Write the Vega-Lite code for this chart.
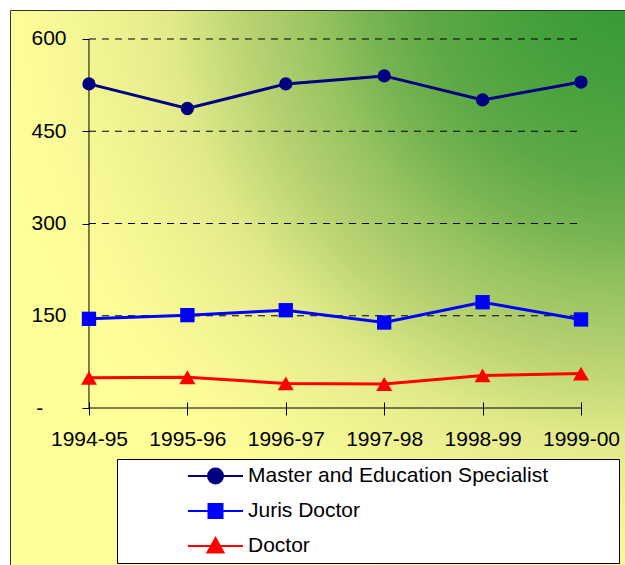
{
  "$schema": "https://vega.github.io/schema/vega-lite/v6.json",
  "width": 616,
  "height": 556,
  "autosize": {"type": "none"},
  "padding": {"left": 10, "top": 10, "right": 0, "bottom": 0},
  "background": "white",
  "config": {
    "view": {
      "stroke": "#333333", "strokeWidth": 1,
      "fill": {
        "gradient": "radial",
        "x1": 1, "y1": 0, "r1": 0,
        "x2": 1, "y2": 0, "r2": 1.08,
        "stops": [
          {"offset": 0, "color": "#339933"},
          {"offset": 0.15, "color": "#44a03b"},
          {"offset": 0.3, "color": "#5ea946"},
          {"offset": 0.39, "color": "#78b552"},
          {"offset": 0.47, "color": "#98c460"},
          {"offset": 0.56, "color": "#b5d070"},
          {"offset": 0.64, "color": "#cfe07f"},
          {"offset": 0.69, "color": "#e2e98b"},
          {"offset": 0.76, "color": "#eef090"},
          {"offset": 0.88, "color": "#fafa97"},
          {"offset": 0.96, "color": "#ffff99"},
          {"offset": 1, "color": "#ffff99"}
        ]
      }
    },
    "font": "Liberation Sans",
    "axisX": {"orient": "bottom", "offset": -164, "domain": false, "grid": false, "ticks": true, "tickSize": 13, "tickColor": "black", "labelPadding": 13, "labelFontSize": 21, "labelFont": "Liberation Sans", "labelColor": "black", "labelAngle": 0, "zindex": 2},
    "axisY": {"orient": "left", "offset": -79, "domain": false, "grid": false, "tickSize": 7, "tickColor": "black", "labelPadding": 16, "labelFontSize": 21, "labelFont": "Liberation Sans", "labelColor": "black", "zindex": 2}
  },
  "datasets": {
    "d": [
      {"series": "Master and Education Specialist", "year": "1994-95", "value": 527},
      {"series": "Master and Education Specialist", "year": "1995-96", "value": 487},
      {"series": "Master and Education Specialist", "year": "1996-97", "value": 527},
      {"series": "Master and Education Specialist", "year": "1997-98", "value": 540},
      {"series": "Master and Education Specialist", "year": "1998-99", "value": 501},
      {"series": "Master and Education Specialist", "year": "1999-00", "value": 530},
      {"series": "Juris Doctor", "year": "1994-95", "value": 145},
      {"series": "Juris Doctor", "year": "1995-96", "value": 151},
      {"series": "Juris Doctor", "year": "1996-97", "value": 159},
      {"series": "Juris Doctor", "year": "1997-98", "value": 139},
      {"series": "Juris Doctor", "year": "1998-99", "value": 172},
      {"series": "Juris Doctor", "year": "1999-00", "value": 144},
      {"series": "Doctor", "year": "1994-95", "value": 49},
      {"series": "Doctor", "year": "1995-96", "value": 50},
      {"series": "Doctor", "year": "1996-97", "value": 40},
      {"series": "Doctor", "year": "1997-98", "value": 39},
      {"series": "Doctor", "year": "1998-99", "value": 53},
      {"series": "Doctor", "year": "1999-00", "value": 56}
    ]
  },
  "layer": [
    {
      "data": {"values": [
        {"value": 150, "year": "1994-95", "b": "1999-00"},
        {"value": 300, "year": "1994-95", "b": "1999-00"},
        {"value": 450, "year": "1994-95", "b": "1999-00"},
        {"value": 600, "year": "1994-95", "b": "1999-00"}
      ]},
      "mark": {"type": "rule", "color": "black", "strokeWidth": 1, "strokeDash": [7, 6]},
      "encoding": {
        "x": {"field": "year", "type": "nominal", "title": null, "scale": {"type": "point", "domain": ["1994-95", "1995-96", "1996-97", "1997-98", "1998-99", "1999-00"], "padding": 0.63, "align": 0.637}},
        "x2": {"field": "b"},
        "y": {"field": "value", "type": "quantitative", "title": null, "scale": {"domain": [-256.9, 647.15], "nice": false, "zero": false}, "axis": {"values": [0, 150, 300, 450, 600], "labelExpr": "datum.value === 0 ? '-\u00a0\u00a0\u00a0\u00a0\u200b' : datum.label"}}
      }
    },
    {
      "data": {"values": [
        {"year": "1994-95", "b": "1994-95", "value": 0, "v2": 600},
        {"year": "1994-95", "b": "1999-00", "value": 0, "v2": 0}
      ]},
      "mark": {"type": "rule", "color": "black", "strokeWidth": 1},
      "encoding": {
        "x": {"field": "year", "type": "nominal", "title": null},
        "x2": {"field": "b"},
        "y": {"field": "value", "type": "quantitative", "title": null, "axis": {"values": [0, 150, 300, 450, 600], "labelExpr": "datum.value === 0 ? '-\u00a0\u00a0\u00a0\u00a0\u200b' : datum.label"}},
        "y2": {"field": "v2"}
      }
    },
    {
      "data": {"name": "d"},
      "mark": {"type": "line", "strokeWidth": 3},
      "encoding": {
        "x": {"field": "year", "type": "nominal", "title": null},
        "y": {"field": "value", "type": "quantitative", "title": null, "axis": {"values": [0, 150, 300, 450, 600], "labelExpr": "datum.value === 0 ? '-\u00a0\u00a0\u00a0\u00a0\u200b' : datum.label"}},
        "color": {
          "field": "series", "type": "nominal",
          "scale": {"domain": ["Master and Education Specialist", "Juris Doctor", "Doctor"], "range": ["#000080", "#0000ff", "#ff0000"]},
          "legend": {
            "orient": "none", "legendX": 107, "legendY": 449, "title": null, "padding": 6,
            "fillColor": "white", "strokeColor": "black", "symbolSize": 400, "symbolStrokeWidth": 2,
            "symbolOffset": 81.5, "labelOffset": 21.5, "rowPadding": 12, "labelFontSize": 21,
            "labelFont": "Liberation Sans", "labelColor": "black", "labelLimit": 700, "zindex": 2,
            "labelExpr": "datum.label + '\u00a0\u00a0\u00a0\u00a0\u00a0\u00a0\u00a0\u00a0\u00a0\u00a0\u00a0\u200b'",
            "encode": {
              "symbols": {
                "update": {
                  "shape": {"signal": "datum.value === 'Doctor' ? 'M-2.75,0H2.75M0,-0.8L0.8,0.65L-0.8,0.65Z' : datum.value === 'Juris Doctor' ? 'M-2.75,0H2.75M-0.7,-0.7H0.7V0.7H-0.7Z' : 'M-2.75,0H2.75M0.75,0A0.75,0.75,0,1,1,-0.75,0A0.75,0.75,0,1,1,0.75,0Z'"},
                  "fill": {"signal": "scale('color', datum.value)"},
                  "stroke": {"signal": "scale('color', datum.value)"},
                  "opacity": {"value": 1}
                }
              }
            }
          }
        }
      }
    },
    {
      "data": {"name": "d"},
      "transform": [{"filter": "datum.series === 'Master and Education Specialist'"}],
      "mark": {"type": "point", "shape": "circle", "filled": true, "size": 177, "color": "#000080", "opacity": 1},
      "encoding": {
        "x": {"field": "year", "type": "nominal", "title": null},
        "y": {"field": "value", "type": "quantitative", "title": null, "axis": {"values": [0, 150, 300, 450, 600], "labelExpr": "datum.value === 0 ? '-\u00a0\u00a0\u00a0\u00a0\u200b' : datum.label"}}
      }
    },
    {
      "data": {"name": "d"},
      "transform": [{"filter": "datum.series === 'Juris Doctor'"}],
      "mark": {"type": "point", "shape": "square", "filled": true, "size": 205, "color": "#0000ff", "opacity": 1},
      "encoding": {
        "x": {"field": "year", "type": "nominal", "title": null},
        "y": {"field": "value", "type": "quantitative", "title": null, "axis": {"values": [0, 150, 300, 450, 600], "labelExpr": "datum.value === 0 ? '-\u00a0\u00a0\u00a0\u00a0\u200b' : datum.label"}}
      }
    },
    {
      "data": {"name": "d"},
      "transform": [{"filter": "datum.series === 'Doctor'"}],
      "mark": {"type": "point", "shape": "triangle-up", "filled": true, "size": 256, "color": "#ff0000", "opacity": 1},
      "encoding": {
        "x": {"field": "year", "type": "nominal", "title": null},
        "y": {"field": "value", "type": "quantitative", "title": null, "axis": {"values": [0, 150, 300, 450, 600], "labelExpr": "datum.value === 0 ? '-\u00a0\u00a0\u00a0\u00a0\u200b' : datum.label"}}
      }
    }
  ]
}
